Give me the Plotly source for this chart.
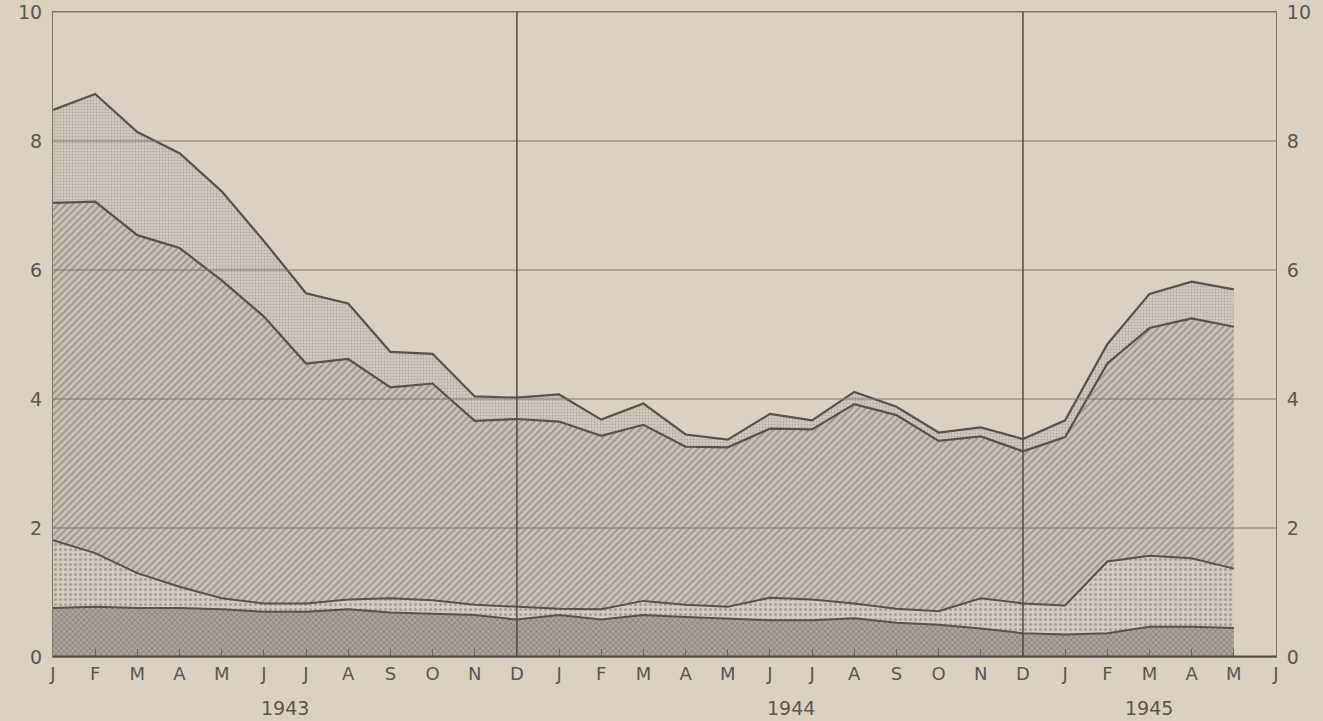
import plotly.graph_objects as go

# Month labels (Jan 1943 .. Jun 1945)
month_labels = ["J","F","M","A","M","J","J","A","S","O","N","D",
                "J","F","M","A","M","J","J","A","S","O","N","D",
                "J","F","M","A","M","J"]
years = ["1943", "1944", "1945"]
year_pos = [5.5, 17.5, 26.0]

# Data months: Jan 1943 .. May 1945 (29 points), cumulative tops of each band
months = list(range(29))
bottom_top = [0.76, 0.78, 0.76, 0.76, 0.74, 0.70, 0.70, 0.74, 0.69, 0.67, 0.65, 0.58,
              0.65, 0.58, 0.65, 0.62, 0.60, 0.57, 0.57, 0.60, 0.53, 0.50, 0.44, 0.37,
              0.35, 0.37, 0.47, 0.47, 0.45]
dots_top = [1.81, 1.61, 1.30, 1.09, 0.91, 0.83, 0.83, 0.89, 0.91, 0.88, 0.81, 0.78,
            0.75, 0.74, 0.87, 0.81, 0.78, 0.92, 0.89, 0.83, 0.75, 0.71, 0.91, 0.83,
            0.80, 1.48, 1.57, 1.53, 1.37]
hatch_top = [7.04, 7.06, 6.54, 6.34, 5.84, 5.28, 4.55, 4.62, 4.18, 4.24, 3.66, 3.69,
             3.65, 3.43, 3.60, 3.26, 3.25, 3.54, 3.53, 3.92, 3.75, 3.35, 3.42, 3.19,
             3.41, 4.55, 5.10, 5.25, 5.12]
total_top = [8.48, 8.73, 8.14, 7.81, 7.22, 6.45, 5.64, 5.48, 4.73, 4.70, 4.04, 4.02,
             4.07, 3.68, 3.93, 3.45, 3.37, 3.77, 3.67, 4.11, 3.88, 3.48, 3.56, 3.38,
             3.67, 4.85, 5.63, 5.82, 5.70]

y_ticks = [0, 2, 4, 6, 8, 10]
dividers = [11, 23]

BG = "#dbd1c1"
LINE = "#57524c"
TXT = "#5a5650"
FONT = "DejaVu Sans"

fig = go.Figure()

fig.add_trace(go.Scatter(
    x=months, y=bottom_top, mode="lines", fill="tozeroy",
    line=dict(color=LINE, width=2),
    fillpattern=dict(shape="x", size=4, solidity=0.4, fgcolor="#67625b", bgcolor="#aaa499"),
    hoverinfo="skip", showlegend=False))
fig.add_trace(go.Scatter(
    x=months, y=dots_top, mode="lines", fill="tonexty",
    line=dict(color=LINE, width=2),
    fillpattern=dict(shape=".", size=5, solidity=0.3, fgcolor="#7a746c", bgcolor="#d3cbbd"),
    hoverinfo="skip", showlegend=False))
fig.add_trace(go.Scatter(
    x=months, y=hatch_top, mode="lines", fill="tonexty",
    line=dict(color=LINE, width=2.2),
    fillpattern=dict(shape="/", size=5, solidity=0.35, fgcolor="#6e6962", bgcolor="#c9c1b3"),
    hoverinfo="skip", showlegend=False))
fig.add_trace(go.Scatter(
    x=months, y=total_top, mode="lines", fill="tonexty",
    line=dict(color=LINE, width=2.2),
    fillpattern=dict(shape=".", size=3, solidity=0.3, fgcolor="#8c867d", bgcolor="#d2cabc"),
    hoverinfo="skip", showlegend=False))

# invisible trace for right axis
fig.add_trace(go.Scatter(x=[0], y=[0], yaxis="y2", mode="markers",
                         marker=dict(opacity=0), hoverinfo="skip", showlegend=False))

shapes = []
for v in y_ticks[1:]:
    shapes.append(dict(type="line", xref="x", yref="y", x0=0, x1=29, y0=v, y1=v,
                       line=dict(color="#7d776f", width=1), layer="above"))
for d in dividers:
    shapes.append(dict(type="line", xref="x", yref="y", x0=d, x1=d, y0=0, y1=10,
                       line=dict(color="#4f4a44", width=1.5), layer="above"))
shapes.append(dict(type="line", xref="x", yref="y", x0=0, x1=29, y0=0, y1=0,
                   line=dict(color="#4f4a44", width=3), layer="above"))

annotations = [dict(x=p, y=-0.079, xref="x", yref="paper", text=t, showarrow=False,
                    yanchor="middle", xanchor="center",
                    font=dict(family=FONT, size=19, color=TXT))
               for p, t in zip(year_pos, years)]

fig.update_layout(
    width=1323, height=721,
    margin=dict(l=53, r=47, t=12, b=64, autoexpand=False),
    paper_bgcolor=BG, plot_bgcolor=BG,
    shapes=shapes, annotations=annotations,
    xaxis=dict(range=[0, 29], tickmode="array", tickvals=list(range(30)),
               ticktext=month_labels, showgrid=False, zeroline=False, automargin=False,
               ticks="inside", ticklen=8, tickcolor="#6a655e",
               showline=True, linecolor="#7d776f", linewidth=1, mirror=True,
               tickfont=dict(family=FONT, size=18, color=TXT)),
    yaxis=dict(range=[0, 10], tickvals=y_ticks, showgrid=False, zeroline=False,
               showline=True, linecolor="#7d776f", linewidth=1, automargin=False,
               ticks="outside", ticklen=6, tickcolor="rgba(0,0,0,0)",
               tickfont=dict(family=FONT, size=19, color=TXT)),
    yaxis2=dict(range=[0, 10], tickvals=y_ticks, overlaying="y", side="right",
                showgrid=False, zeroline=False, showline=True, linecolor="#7d776f",
                linewidth=1, ticks="outside", ticklen=6, tickcolor="rgba(0,0,0,0)",
                automargin=False,
                tickfont=dict(family=FONT, size=19, color=TXT)),
)

fig.write_html("out.html", config={"displayModeBar": False},
               post_script="document.body.style.margin='0px';document.body.style.background='" + BG + "';")
